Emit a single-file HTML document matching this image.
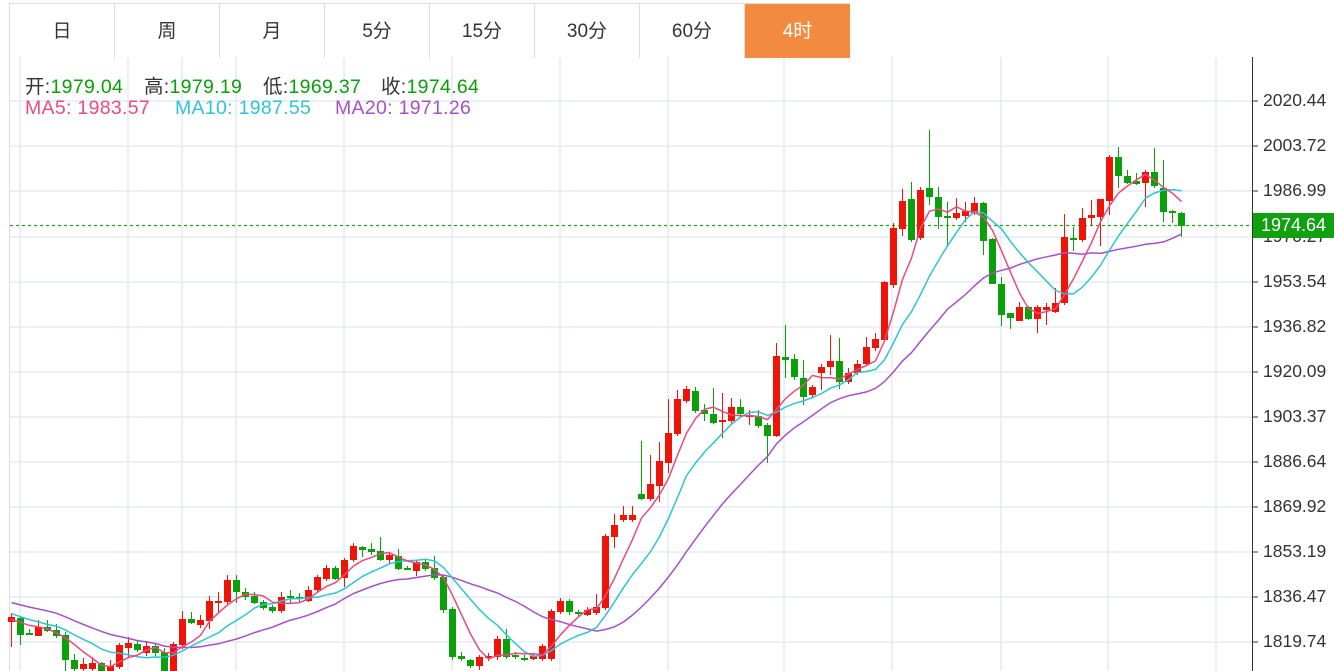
<!DOCTYPE html>
<html><head><meta charset="utf-8"><style>
html,body{margin:0;padding:0;background:#fff;}
body{width:1334px;height:671px;overflow:hidden;position:relative;font-family:"Liberation Sans","Noto Sans CJK SC",sans-serif;}
.tabs{position:absolute;left:9px;top:3px;width:840px;height:54px;border-top:1px solid #ddd;border-left:1px solid #ddd;}
.tab{position:absolute;top:0;height:54px;width:104px;border-right:1px solid #ddd;text-align:center;line-height:56px;font-size:19px;color:#333;}
.tab.on{background:#f28b3f;color:#fff;border-right:none;}
.i{position:absolute;font-size:19.5px;white-space:nowrap;letter-spacing:0.3px}
.g{color:#0aa00a}.k{color:#333}
.ax{position:absolute;left:1263px;font-size:17.5px;color:#333;}
</style></head><body>
<svg id="s" width="1334" height="671" style="position:absolute;left:0;top:0"></svg>
<div class="tabs">
<div class="tab" style="left:0">日</div>
<div class="tab" style="left:105px">周</div>
<div class="tab" style="left:210px">月</div>
<div class="tab" style="left:315px">5分</div>
<div class="tab" style="left:420px">15分</div>
<div class="tab" style="left:525px">30分</div>
<div class="tab" style="left:630px">60分</div>
<div class="tab on" style="left:735px;width:105px">4时</div>
</div>
<div class="i" style="top:70px;left:25px"><span class="k">开:</span><span class="g">1979.04</span></div>
<div class="i" style="top:70px;left:144px"><span class="k">高:</span><span class="g">1979.19</span></div>
<div class="i" style="top:70px;left:263px"><span class="k">低:</span><span class="g">1969.37</span></div>
<div class="i" style="top:70px;left:381px"><span class="k">收:</span><span class="g">1974.64</span></div>
<div class="i" style="top:97px;left:25px;color:#ec4a7f">MA5:&nbsp;1983.57</div>
<div class="i" style="top:97px;left:175px;color:#2ec3d9">MA10:&nbsp;1987.55</div>
<div class="i" style="top:97px;left:335px;color:#a94fc6">MA20:&nbsp;1971.26</div>
<div class="ax" style="top:90px">2020.44</div>
<div class="ax" style="top:135px">2003.72</div>
<div class="ax" style="top:180px">1986.99</div>
<div class="ax" style="top:226px">1970.27</div>
<div class="ax" style="top:271px">1953.54</div>
<div class="ax" style="top:316px">1936.82</div>
<div class="ax" style="top:361px">1920.09</div>
<div class="ax" style="top:406px">1903.37</div>
<div class="ax" style="top:451px">1886.64</div>
<div class="ax" style="top:496px">1869.92</div>
<div class="ax" style="top:541px">1853.19</div>
<div class="ax" style="top:586px">1836.47</div>
<div class="ax" style="top:631px">1819.74</div>
<div style="position:absolute;left:1253px;top:213px;width:81px;height:25px;background:#10a010;color:#fff;font-size:18px;line-height:25px;text-align:center">1974.64</div>
<script>
var D=[
[622,617,613,647],[618,635,617,645],[633,635,629,635],[636,627,620,636],[627,631,620,632],[630,636,624,638],[635,660,632,671],[660,669,654,671],[669,664,658,671],[669,663,657,671],
[663,671,662,671],[671,666,660,671],[667,645,643,669],[648,643,637,658],[644,650,640,652],[653,646,641,656],[646,653,643,656],[652,671,648,671],[671,644,642,671],[645,619,611,649],
[619,623,612,624],[625,620,615,628],[621,601,596,629],[602,601,592,612],[602,580,575,604],[580,592,575,603],[592,597,588,600],[596,603,592,604],[602,608,600,610],[607,611,605,613],
[611,597,592,613],[596,598,590,603],[597,599,593,602],[601,590,586,602],[590,577,575,592],[579,568,565,581],[568,579,566,580],[578,560,558,587],[560,546,543,562],[547,550,546,557],
[549,552,543,555],[551,560,537,561],[560,555,553,563],[556,569,549,570],[568,569,566,570],[571,562,560,576],[562,569,560,571],[568,578,556,580],[577,610,575,613],[609,657,607,660],
[656,659,652,661],[660,666,659,668],[666,657,655,670],[658,656,653,661],[657,639,636,660],[639,657,629,659],[655,657,652,659],[658,660,655,661],[659,656,654,660],[659,646,644,661],
[659,611,609,661],[612,601,598,614],[601,612,599,615],[612,614,610,616],[615,610,607,616],[613,607,594,615],[608,536,534,610],[537,525,514,548],[520,515,506,522],[520,515,506,522],
[494,499,441,500],[499,484,455,501],[486,461,442,502],[463,433,399,473],[434,399,390,436],[401,389,386,403],[391,411,387,413],[410,414,404,421],[414,423,388,424],[422,420,393,438],
[421,407,398,425],[407,414,399,417],[417,415,410,425],[416,426,410,428],[425,436,423,463],[436,356,343,437],[357,360,325,378],[359,377,354,380],[378,397,360,405],[395,387,385,397],
[373,367,364,390],[367,361,335,375],[361,382,338,389],[382,373,368,384],[373,364,360,375],[364,347,337,366],[348,339,333,351],[340,282,281,342],[285,228,223,288],[229,201,189,236],
[199,240,182,242],[238,190,187,240],[188,197,130,205],[197,217,187,229],[216,217,202,247],[218,213,198,220],[216,211,202,222],[213,203,197,215],[203,241,202,255],[239,284,238,283],
[284,315,277,326],[313,318,313,329],[321,307,302,321],[307,319,306,320],[319,307,305,333],[310,307,303,325],[312,303,288,313],[303,237,214,305],[238,240,227,251],[240,218,208,242],
[218,215,200,226],[217,199,199,246],[201,157,155,215],[157,176,147,188],[176,183,170,184],[181,184,173,185],[183,172,170,207],[172,186,148,188],[188,212,160,222],[211,212,210,223],
[213,226,212,237]];
var S='<g stroke="#e3ebf3" stroke-width="1.5">';
[101,146,191,237,282,327,372,417,462,507,552,597,642].forEach(function(y){S+='<line x1="10" x2="1252" y1="'+y+'" y2="'+y+'"/>';});
[20,128,182,236,344,452,560,668,784,892,1001,1108,1216].forEach(function(x){S+='<line y1="57" y2="671" x1="'+x+'" x2="'+x+'"/>';});
S+='</g><line x1="9.5" x2="9.5" y1="57" y2="671" stroke="#ddd"/>';
S+='<line x1="1252.5" x2="1252.5" y1="57" y2="671" stroke="#333"/>';
[101,146,191,237,282,327,372,417,462,507,552,597,642].forEach(function(y){S+='<line x1="1252" x2="1258" y1="'+y+'" y2="'+y+'" stroke="#333"/>';});
S+='<line x1="10" x2="1252" y1="225.5" y2="225.5" stroke="#1aa81a" stroke-width="1.3" stroke-dasharray="3,3"/>';
var closes=[];for(var i=0;i<10;i++)closes.push(590);for(i=0;i<5;i++)closes.push(605);for(i=0;i<5;i++)closes.push(620);
var n0=closes.length;
D.forEach(function(d,i){
 var x=11+i*9,o=d[0],c=d[1],h=d[2],l=d[3],up=c<o,col=up?'#ee1508':'#0aa00a';
 closes.push(c);
 var t=Math.min(o,c),b=Math.max(o,c);if(b-t<2)b=t+2;
 h=Math.min(h,t);l=Math.max(l,b);
 S+='<line x1="'+(x+.5)+'" x2="'+(x+.5)+'" y1="'+h+'" y2="'+l+'" stroke="'+col+'"/>';
 S+='<rect x="'+(x-3)+'" y="'+t+'" width="7" height="'+(b-t)+'" fill="'+col+'"/>';
});
function ma(p,color){var pts=[];for(var i=0;i<D.length;i++){var k=n0+i,s=0;for(var j=0;j<p;j++)s+=closes[k-j];pts.push((11.5+i*9)+','+(s/p).toFixed(1));}
 return '<polyline fill="none" stroke="'+color+'" stroke-width="1.5" points="'+pts.join(' ')+'"/>';}
S+=ma(20,'#a94fc6')+ma(10,'#2ec3d9')+ma(5,'#ec4a7f');
document.getElementById('s').innerHTML=S;
</script>
</body></html>
